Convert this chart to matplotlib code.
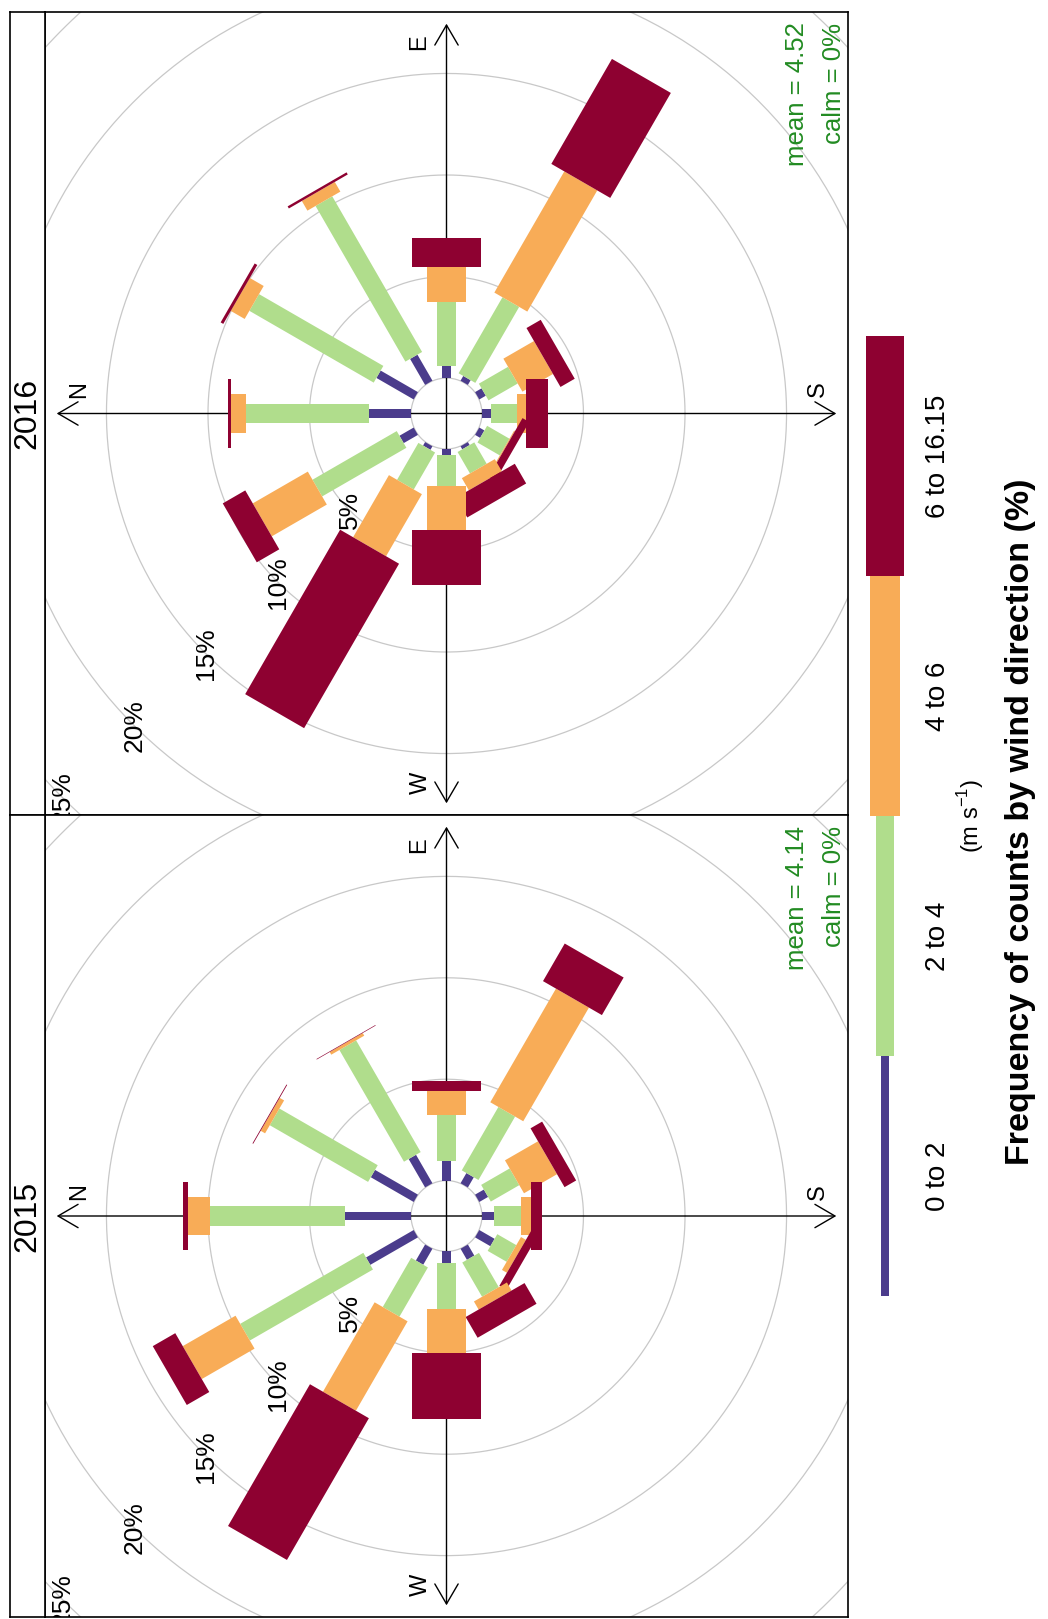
import numpy as np
import matplotlib
matplotlib.use('Agg')
import matplotlib.pyplot as plt
from matplotlib.patches import Polygon, FancyArrowPatch

plt.rcParams['font.family'] = ['Liberation Sans', 'DejaVu Sans']
plt.rcParams['mathtext.fontset'] = 'custom'
plt.rcParams['mathtext.rm'] = 'Liberation Sans'

# ---- data (frequency % per direction and speed bin) ----
directions = [0, 30, 60, 90, 120, 150, 180, 210, 240, 270, 300, 330]
speed_bins = ['0 to 2', '2 to 4', '4 to 6', '6 to 16.15']

freq_2015 = [
    [3.27, 6.65, 1.07, 0.23],
    [2.44, 5.59, 0.25, 0.04],
    [1.62, 6.36, 0.15, 0.03],
    [0.97, 2.26, 1.18, 0.49],
    [0.58, 3.61, 6.47, 2.14],
    [0.50, 1.62, 1.88, 0.66],
    [0.60, 1.31, 0.50, 0.57],
    [0.87, 1.08, 0.28, 0.40],
    [0.63, 1.95, 0.46, 1.18],
    [0.55, 2.31, 2.13, 3.29],
    [0.91, 2.80, 5.09, 8.07],
    [2.71, 7.00, 3.00, 1.28],
]
freq_2016 = [
    [2.05, 6.06, 0.74, 0.15],
    [2.12, 7.07, 0.79, 0.15],
    [1.48, 8.85, 0.55, 0.12],
    [0.57, 3.20, 1.72, 1.43],
    [0.27, 4.32, 6.89, 5.97],
    [0.37, 1.66, 1.74, 0.81],
    [0.44, 1.31, 0.41, 1.07],
    [0.29, 1.27, 0.05, 0.38],
    [0.17, 1.22, 0.69, 1.12],
    [0.28, 1.56, 2.13, 2.71],
    [0.20, 2.10, 3.53, 9.35],
    [0.81, 4.79, 3.13, 1.28],
]
mean_2015, mean_2016 = 4.14, 4.52
calm_2015, calm_2016 = 0, 0

cols = ['#4b3c8c', '#b0dd8c', '#f8ac57', '#8e0131']

W, H = 1048, 1619
fig = plt.figure(figsize=(W / 100, H / 100), dpi=100)


def px_axes(x0, y0, x1, y1):
    # box in pixels, y counted from the top of the image
    return fig.add_axes([x0 / W, 1 - y1 / H, (x1 - x0) / W, (y1 - y0) / H])


max_freq = max(np.sum(freq_2015, axis=1).max(), np.sum(freq_2016, axis=1).max())
off_set = max_freq * 0.10
half_w = np.linspace(0.002 ** 0.25, 0.016 ** 0.25, 4) ** 4 * max_freq * 30 / 5
A = max_freq + off_set
lim = 1.03 * A


def wind_panel(ax, freq, mean, calm):
    ax.set_xlim(-lim, lim)
    ax.set_ylim(-lim, lim)
    ax.set_xticks([])
    ax.set_yticks([])
    for s in ax.spines.values():
        s.set_linewidth(1.2)

    # grey rings
    t = np.linspace(0, 2 * np.pi, 400)
    for r in np.arange(off_set, 2 * max_freq, 5):
        ax.plot(r * np.cos(t), r * np.sin(t), color='#c8c8c8', lw=0.9, zorder=1)

    # compass arrows (figure is turned: N points left, E up)
    for pa, pb in [((A, 0), (-A, 0)), ((0, -A), (0, A))]:
        ax.add_patch(FancyArrowPatch(pa, pb, arrowstyle='<->,head_length=0.6,head_width=0.35',
                                     mutation_scale=24, lw=1.0, color='black',
                                     shrinkA=0, shrinkB=0, zorder=2))
    ax.text(-18.1, 1.2, 'N', rotation=90, ha='center', va='center', fontsize=17)
    ax.text(-1.35, 18.3, 'E', rotation=90, ha='center', va='center', fontsize=17)
    ax.text(18.3, 1.2, 'S', rotation=90, ha='center', va='center', fontsize=17)
    ax.text(-1.25, -18.2, 'W', rotation=90, ha='center', va='center', fontsize=17)

    # paddles
    freq = np.asarray(freq)
    for k, wd in enumerate(directions):
        th = np.deg2rad(wd)
        u = np.array([-np.cos(th), np.sin(th)])
        p = np.array([np.sin(th), np.cos(th)])
        cum = np.concatenate([[0], np.cumsum(freq[k])]) + off_set
        for j in range(len(speed_bins)):
            r1, r2, w = cum[j], cum[j + 1], half_w[j]
            pts = [r1 * u - w * p, r1 * u + w * p, r2 * u + w * p, r2 * u - w * p]
            ax.add_patch(Polygon(pts, closed=True, fc=cols[j], ec='none', zorder=3))

    # ring labels along NW
    ang = np.deg2rad(315)
    for k, r in enumerate(np.arange(5 + off_set, 2 * max_freq, 5)):
        x, y = -r * np.cos(ang), r * np.sin(ang)
        if abs(x) > lim:
            continue
        ax.text(x, y, '%d%%' % (5 * (k + 1)), rotation=90,
                ha='center', va='center', fontsize=19, zorder=5, clip_on=True)

    ax.text(17.6, 19.25, 'mean = %.2f' % mean, rotation=90, rotation_mode='anchor',
            ha='right', va='baseline', fontsize=18.5, color='#228b22', zorder=5)
    ax.text(19.45, 19.25, 'calm = %d%%' % calm, rotation=90, rotation_mode='anchor',
            ha='right', va='baseline', fontsize=18.5, color='#228b22', zorder=5)


def strip(ax, label):
    ax.set_xticks([])
    ax.set_yticks([])
    for s in ax.spines.values():
        s.set_linewidth(1.2)
    ax.text(0.5, 0.5, label, rotation=90, ha='center', va='center',
            fontsize=23, transform=ax.transAxes)


ax16 = px_axes(45, 12, 848, 815)
ax15 = px_axes(45, 815, 848, 1617)
wind_panel(ax16, freq_2016, mean_2016, calm_2016)
wind_panel(ax15, freq_2015, mean_2015, calm_2015)
strip(px_axes(10, 12, 45, 815), '2016')
strip(px_axes(10, 815, 45, 1617), '2015')

# ---- key on the right ----
leg = px_axes(850, 0, 1048, 1619)
leg.set_xlim(850, 1048)
leg.set_ylim(1619, 0)
leg.axis('off')
key_w = [8, 18, 30, 38]
seg = 240
y_bottom = 1296
for j, lab in enumerate(speed_bins):
    yc = y_bottom - seg * (j + 0.5)
    leg.barh(yc, key_w[j], height=seg, left=885 - key_w[j] / 2, color=cols[j], lw=0)
    leg.text(938, yc, lab, rotation=90, ha='center', va='center', fontsize=20)
leg.text(971, y_bottom - 2 * seg, r'(m s$^{-1}$)', rotation=90, ha='center', va='center',
         fontsize=17)
leg.text(1021, y_bottom - 2 * seg + 6, 'Frequency of counts by wind direction (%)',
         rotation=90, ha='center', va='center', fontsize=24.5, fontweight='bold')

fig.savefig('out.png', dpi=100)
